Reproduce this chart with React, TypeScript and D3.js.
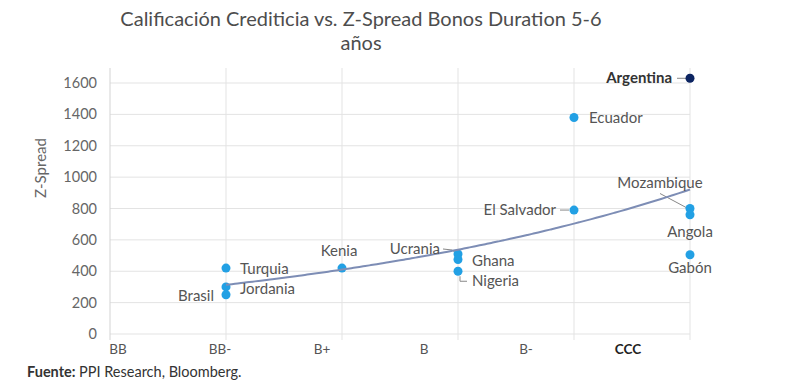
import { useEffect, useRef } from "react";
import * as d3 from "d3";

// Chart data
const ratings = ["BB", "BB-", "B+", "B", "B-", "CCC"];
const yTicks = [0, 200, 400, 600, 800, 1000, 1200, 1400, 1600];

const countries = ["Turquia", "Jordania", "Brasil", "Kenia", "Ucrania", "Ghana", "Nigeria", "Ecuador", "El Salvador", "Argentina", "Mozambique", "Angola", "Gabón"];
const countryRatings = ["BB-", "BB-", "BB-", "B+", "B", "B", "B", "B-", "B-", "CCC", "CCC", "CCC", "CCC"];
const spreads = [420, 300, 250, 420, 510, 475, 400, 1380, 790, 1630, 800, 760, 505];

// label placement: dx, dy from the point, text-anchor, optional leader path (relative)
const labelLayout: Record<string, { dx: number; dy: number; anchor: string; leader?: [number, number][] }> = {
    Turquia: { dx: 14, dy: 1, anchor: "start" },
    Jordania: { dx: 14, dy: 2, anchor: "start" },
    Brasil: { dx: -12, dy: 1, anchor: "end" },
    Kenia: { dx: -3, dy: -17, anchor: "middle" },
    Ucrania: { dx: -18, dy: -5, anchor: "end", leader: [[-15, -5], [-6, -4], [-2, -1]] },
    Ghana: { dx: 14, dy: 2, anchor: "start" },
    Nigeria: { dx: 14, dy: 10, anchor: "start", leader: [[2, 5], [2, 10], [9, 10]] },
    Ecuador: { dx: 15, dy: 0, anchor: "start" },
    "El Salvador": { dx: -18, dy: 0, anchor: "end", leader: [[-14, 0], [-5, 0]] },
    Argentina: { dx: -18, dy: 0, anchor: "end", leader: [[-13, 0], [-4, 0]] },
    Mozambique: { dx: -30, dy: -26, anchor: "middle", leader: [[-30, -15], [-2, 0]] },
    Angola: { dx: 0, dy: 17, anchor: "middle" },
    "Gabón": { dx: 0, dy: 13, anchor: "middle" },
};

export default function App() {
    const ref = useRef<SVGSVGElement>(null);

    useEffect(() => {
        const svg = d3.select(ref.current);
        svg.selectAll("*").remove();

        const font = "Lato, 'Noto Sans', sans-serif";

        const x = d3.scalePoint().domain(ratings).range([110, 690]);
        // category labels sit on their own spacing in the original
        const xLabel = d3.scalePoint().domain(ratings).range([118, 628]);
        const y = d3.scaleLinear().domain([0, 1600]).range([334, 83]);

        // Title
        const title = svg.append("text")
            .attr("text-anchor", "middle")
            .attr("font-family", font)
            .attr("font-size", 20)
            .attr("fill", "#4d4d4d");
        title.append("tspan").attr("x", 361).attr("y", 26).text("Calificación Crediticia vs. Z-Spread Bonos Duration 5-6");
        title.append("tspan").attr("x", 361).attr("y", 50).text("años");

        // Grid
        svg.append("g")
            .selectAll("line")
            .data(yTicks)
            .join("line")
            .attr("x1", 110)
            .attr("x2", 690)
            .attr("y1", d => y(d))
            .attr("y2", d => y(d))
            .attr("stroke", "#e3e3e3");

        svg.append("g")
            .selectAll("line")
            .data(ratings)
            .join("line")
            .attr("x1", d => x(d)!)
            .attr("x2", d => x(d)!)
            .attr("y1", 68)
            .attr("y2", 340)
            .attr("stroke", d => (d === "BB" ? "#d3d3d3" : "#e3e3e3"));

        // Y tick labels
        svg.append("g")
            .selectAll("text")
            .data(yTicks)
            .join("text")
            .attr("x", 97)
            .attr("y", d => y(d) + 5)
            .attr("text-anchor", "end")
            .attr("font-family", font)
            .attr("font-size", 14.5)
            .attr("fill", "#666")
            .text(d => d);

        svg.append("text")
            .attr("transform", "translate(46,168) rotate(-90)")
            .attr("text-anchor", "middle")
            .attr("font-family", font)
            .attr("font-size", 15)
            .attr("fill", "#666")
            .text("Z-Spread");

        // X labels
        svg.append("g")
            .selectAll("text")
            .data(ratings)
            .join("text")
            .attr("x", d => xLabel(d)!)
            .attr("y", 354)
            .attr("text-anchor", "middle")
            .attr("font-family", font)
            .attr("font-size", 13.5)
            .attr("font-weight", d => (d === "CCC" ? 700 : 400))
            .attr("fill", d => (d === "CCC" ? "#222" : "#555"))
            .text(d => d);

        const points = countries.map((c, i) => ({
            name: c,
            px: x(countryRatings[i])!,
            py: y(spreads[i]),
        }));

        // Leaders
        const lineGen = d3.line();
        svg.append("g")
            .selectAll("path")
            .data(points.filter(p => labelLayout[p.name].leader))
            .join("path")
            .attr("d", p => lineGen(labelLayout[p.name].leader!.map(([a, b]) => [p.px + a, p.py + b]))!)
            .attr("fill", "none")
            .attr("stroke", "#888")
            .attr("stroke-width", 1);

        // Points
        svg.append("g")
            .selectAll("circle")
            .data(points)
            .join("circle")
            .attr("cx", p => p.px)
            .attr("cy", p => p.py)
            .attr("r", 4.5)
            .attr("fill", p => (p.name === "Argentina" ? "#0c2461" : "#22a0e4"));

        // Exponential trendline fitted to the points
        const xs = countryRatings.map(r => ratings.indexOf(r));
        const ls = spreads.map(v => Math.log(v));
        const mx = d3.mean(xs)!;
        const ml = d3.mean(ls)!;
        const b = d3.sum(xs, (v, i) => (v - mx) * (ls[i] - ml)) / d3.sum(xs, v => (v - mx) ** 2);
        const a = ml - b * mx;
        const trendX = d3.range(1, 5.001, 0.05);
        const xIdx = d3.scaleLinear().domain([0, ratings.length - 1]).range(x.range());
        svg.append("path")
            .datum(trendX)
            .attr("d", d3.line<number>()
                .x(t => xIdx(t))
                .y(t => y(Math.exp(a + b * t)))
                .curve(d3.curveMonotoneX))
            .attr("fill", "none")
            .attr("stroke", "#7d8db5")
            .attr("stroke-width", 2);

        // Point labels
        svg.append("g")
            .selectAll("text")
            .data(points)
            .join("text")
            .attr("x", p => p.px + labelLayout[p.name].dx)
            .attr("y", p => p.py + labelLayout[p.name].dy + 5)
            .attr("text-anchor", p => labelLayout[p.name].anchor)
            .attr("font-family", font)
            .attr("font-size", 15)
            .attr("font-weight", p => (p.name === "Argentina" ? 700 : 400))
            .attr("fill", p => (p.name === "Argentina" ? "#333" : "#555"))
            .text(p => p.name);

        // Footer
        const foot = svg.append("text")
            .attr("x", 27)
            .attr("y", 377)
            .attr("font-family", font)
            .attr("font-size", 14.5)
            .attr("fill", "#333");
        foot.append("tspan").attr("font-weight", 700).text("Fuente: ");
        foot.append("tspan").text("PPI Research, Bloomberg.");
    }, []);

    return (
        <svg ref={ref} width={800} height={392} style={{ position: "absolute", left: 0, top: 0, background: "#fff" }}></svg>
    );
}
